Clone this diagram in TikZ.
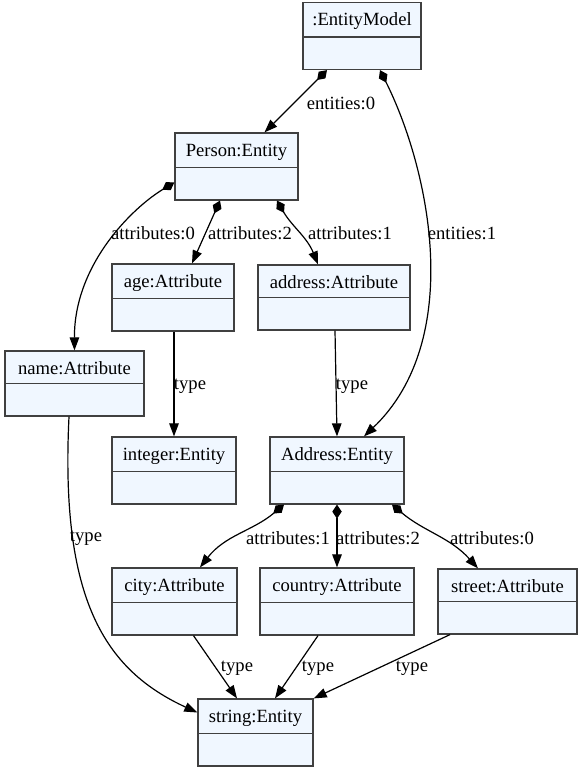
\documentclass[tikz,border=0pt]{standalone}
\usepackage{fontspec}
\setmainfont{Liberation Serif}
\usepackage{tikz}
\usetikzlibrary{arrows.meta,shapes.multipart,calc}
\definecolor{clsfill}{HTML}{F0F7FF}
\definecolor{clsline}{HTML}{404040}
\newcommand{\partstrut}{\rule[-2bp]{0pt}{18bp}}

\begin{document}
\begin{tikzpicture}[x=1bp,y=1bp,
  font=\fontsize{18.7}{22.4}\selectfont,
  cls/.style={rectangle split,rectangle split parts=2,draw=clsline,fill=clsfill,
    line width=1.4bp,inner ysep=6.5bp,inner xsep=0pt},
  edge/.style={line width=1.2bp,-{Triangle[length=13bp,width=9.5bp]}},
  comp/.style={line width=1.2bp,{Diamond[length=14bp,width=9.5bp]}-{Triangle[length=13bp,width=9.5bp]}},
  lbl/.style={inner sep=1bp}]
  \useasboundingbox (0,0) rectangle (583,-769);
  \node[cls,minimum width=118bp] (model) at (362,-36) {\partstrut:EntityModel\nodepart{two}\partstrut};
  \node[cls,minimum width=123bp] (person) at (236.5,-166.5) {\partstrut Person:Entity\nodepart{two}\partstrut};
  \node[cls,minimum width=139bp] (name) at (74.5,-383.5) {\partstrut name:Attribute\nodepart{two}\partstrut};
  \node[cls,minimum width=122bp] (age) at (173,-297.5) {\partstrut age:Attribute\nodepart{two}\partstrut};
  \node[cls,minimum width=152bp] (addrattr) at (334,-297.5) {\partstrut address:Attribute\nodepart{two}\partstrut};
  \node[cls,minimum width=124bp] (integer) at (174,-470.5) {\partstrut integer:Entity\nodepart{two}\partstrut};
  \node[cls,minimum width=134bp] (addrent) at (337,-470.5) {\partstrut Address:Entity\nodepart{two}\partstrut};
  \node[cls,minimum width=125bp] (city) at (174.5,-601.5) {\partstrut city:Attribute\nodepart{two}\partstrut};
  \node[cls,minimum width=154bp] (country) at (337,-601.5) {\partstrut country:Attribute\nodepart{two}\partstrut};
  \node[cls,minimum width=139bp] (street) at (507.5,-601.5) {\partstrut street:Attribute\nodepart{two}\partstrut};
  \node[cls,minimum width=115bp] (string) at (255.5,-732.5) {\partstrut string:Entity\nodepart{two}\partstrut};
  % composition links
  \draw[comp] ($(model.south)+(-35,0)$) -- ($(person.north)+(28,0)$)
    node[lbl] at (341,-103) {entities:0};
  \draw[comp] ($(model.south)+(18,0)$) .. controls (430,-170) and (465,-340) .. ($(addrent.north)+(27,0)$)
    node[lbl] at (462,-233) {entities:1};
  \draw[comp] ($(person.west)+(0,-16)$) .. controls (132,-208) and (74,-265) .. (name.north)
    node[lbl] at (153,-233) {attributes:0};
  \draw[comp] ($(person.south)+(-16.5,0)$) -- ($(age.north)+(19,0)$)
    node[lbl] at (250,-233) {attributes:2};
  \draw[comp] ($(person.south)+(40.5,0)$) to[out=-60,in=112] ($(addrattr.north)+(-16,0)$)
    node[lbl] at (350,-233) {attributes:1};
  \draw[comp] ($(addrent.south)+(-53,0)$) to[out=-140,in=52] ($(city.north)+(25.5,0)$)
    node[lbl] at (288,-538) {attributes:1};
  \draw[comp] (addrent.south) -- (country.north)
    node[lbl] at (378,-538) {attributes:2};
  \draw[comp] ($(addrent.south)+(55,0)$) to[out=-40,in=132] ($(street.north)+(-29.5,0)$)
    node[lbl] at (492,-538) {attributes:0};
  % type links
  \draw[edge] ($(age.south)+(1,0)$) -- (integer.north) node[lbl] at (190,-386) {type};
  \draw[edge] ($(addrattr.south)+(1,0)$) -- (addrent.north) node[lbl] at (352,-386) {type};
  \draw[edge] ($(name.south)+(-5.5,0)$) .. controls (60,-600) and (105,-670) .. ($(string.west)+(0,20)$)
    node[lbl] at (86,-538) {type};
  \draw[edge] ($(city.south)+(19,0)$) -- ($(string.north)+(-18.5,0)$) node[lbl] at (237,-668) {type};
  \draw[edge] ($(country.south)+(-19,0)$) -- ($(string.north)+(19.5,0)$) node[lbl] at (318,-668) {type};
  \draw[edge] ($(street.south)+(-57.5,0)$) -- (string.north east) node[lbl] at (412,-668) {type};
\end{tikzpicture}
\end{document}
